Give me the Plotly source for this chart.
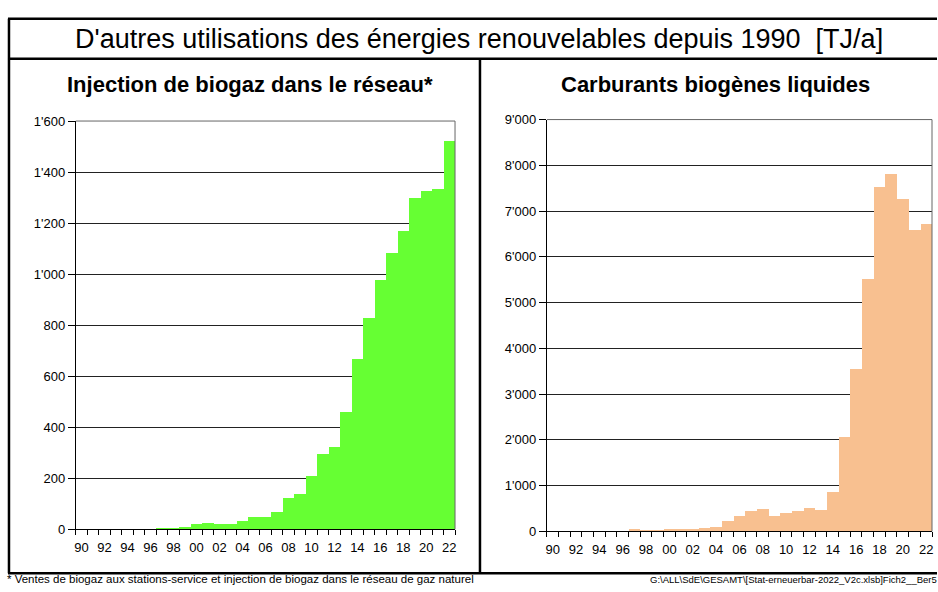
import plotly.graph_objects as go

YEARS = list(range(1990, 2023))

# Injection de biogaz dans le réseau [TJ/a]
BIOGAS = [0, 0, 0, 0, 0, 0, 0, 4, 6, 10,
          20, 25, 20, 23, 33, 48, 50, 67, 123, 137,
          211, 295, 323, 460, 668, 828, 977, 1082, 1170, 1298,
          1327, 1332, 1520]

# Carburants biogènes liquides [TJ/a]
LIQUID = [0, 0, 0, 0, 0, 0, 0, 57, 50, 42,
          57, 57, 57, 78, 113, 240, 339, 445, 488, 353,
          417, 445, 516, 473, 869, 2064, 3567, 5527, 7531, 7813,
          7268, 6588, 6737]

LEFT_TICKS = [0, 200, 400, 600, 800, 1000, 1200, 1400, 1600]
RIGHT_TICKS = [0, 1000, 2000, 3000, 4000, 5000, 6000, 7000, 8000, 9000]
X_LABELS = [f"{y % 100:02d}" for y in YEARS[::2]]

GREEN = "#66FF33"
PEACH = "#F8C090"
FONT = "Arial, Liberation Sans, sans-serif"
W, H = 938, 592


def _fmt(v):
    return f"{v:,}".replace(",", "'")


def px_x(px):
    return px / W


def px_y(py):
    return 1 - py / H


fig = go.Figure()
fig.add_trace(go.Bar(x=YEARS, y=BIOGAS, marker=dict(color=GREEN, line=dict(width=0)),
                     xaxis="x", yaxis="y", showlegend=False))
fig.add_trace(go.Bar(x=YEARS, y=LIQUID, marker=dict(color=PEACH, line=dict(width=0)),
                     xaxis="x2", yaxis="y2", showlegend=False))

xaxis_common = dict(
    range=[1989.5, 2022.5],
    tickmode="array",
    tickvals=YEARS[::2],
    ticktext=X_LABELS,
    ticks="outside", ticklen=6, tickcolor="rgba(0,0,0,0)",
    showline=True, linecolor="black", linewidth=1,
    showgrid=False, zeroline=False,
    tickfont=dict(family=FONT, size=13, color="black"),
    minor=dict(tickmode="array", tickvals=[y - 0.5 for y in YEARS] + [2022.5],
               ticks="outside", ticklen=5, tickcolor="black", showgrid=False),
    fixedrange=True,
)
yaxis_common = dict(
    tickmode="array",
    ticks="outside", ticklen=7, tickcolor="black",
    showline=True, linecolor="black", linewidth=1,
    showgrid=True, gridcolor="#222222", gridwidth=1,
    zeroline=False,
    tickfont=dict(family=FONT, size=13, color="black"),
    fixedrange=True,
)

fig.update_layout(
    width=W, height=H,
    margin=dict(l=0, r=0, t=0, b=0),
    paper_bgcolor="white", plot_bgcolor="white",
    bargap=0,
    font=dict(family=FONT, color="black"),
    xaxis=dict(domain=[px_x(75), px_x(455)], anchor="y", **xaxis_common),
    yaxis=dict(domain=[px_y(536), px_y(117)], anchor="x", range=[0, 1600],
               tickvals=LEFT_TICKS, ticktext=[_fmt(v) for v in LEFT_TICKS], **yaxis_common),
    xaxis2=dict(domain=[px_x(547), px_x(933)], anchor="y2", **xaxis_common),
    yaxis2=dict(domain=[px_y(538), px_y(115.5)], anchor="x2", range=[0, 9000],
                tickvals=RIGHT_TICKS, ticktext=[_fmt(v) for v in RIGHT_TICKS], **yaxis_common),
)

# plot frames (top and right edges, grey)
for xa, ya in (("x", "y"), ("x2", "y2")):
    fig.add_shape(type="line", xref=f"{xa} domain", yref=f"{ya} domain",
                  x0=0, x1=1, y0=1, y1=1, line=dict(color="#666666", width=1))
    fig.add_shape(type="line", xref=f"{xa} domain", yref=f"{ya} domain",
                  x0=1, x1=1, y0=0, y1=1, line=dict(color="#666666", width=1))

# outer box
frame = dict(color="black", width=2.5)
fig.add_shape(type="line", xref="paper", yref="paper", x0=px_x(7), x1=1, y0=px_y(12), y1=px_y(12), line=frame)
fig.add_shape(type="line", xref="paper", yref="paper", x0=px_x(7), x1=1, y0=px_y(53), y1=px_y(53), line=frame)
fig.add_shape(type="line", xref="paper", yref="paper", x0=px_x(7), x1=1, y0=px_y(581), y1=px_y(581), line=frame)
fig.add_shape(type="line", xref="paper", yref="paper", x0=px_x(8), x1=px_x(8), y0=px_y(581), y1=px_y(12), line=frame)
fig.add_shape(type="line", xref="paper", yref="paper", x0=px_x(480), x1=px_x(480), y0=px_y(581), y1=px_y(53), line=frame)

fig.add_annotation(text="D'autres utilisations des énergies renouvelables depuis 1990  [TJ/a]",
                   x=px_x(479), y=px_y(33), xref="paper", yref="paper", showarrow=False,
                   xanchor="center", yanchor="middle", font=dict(family=FONT, size=27))
fig.add_annotation(text="<b>Injection de biogaz dans le réseau*</b>",
                   x=px_x(250), y=px_y(80), xref="paper", yref="paper", showarrow=False,
                   xanchor="center", yanchor="middle", font=dict(family=FONT, size=22))
fig.add_annotation(text="<b>Carburants biogènes liquides</b>",
                   x=px_x(716), y=px_y(80), xref="paper", yref="paper", showarrow=False,
                   xanchor="center", yanchor="middle", font=dict(family=FONT, size=22))
fig.add_annotation(text="* Ventes de biogaz aux stations-service et injection de biogaz dans le réseau de gaz naturel",
                   x=px_x(4), y=px_y(587), xref="paper", yref="paper", showarrow=False,
                   xanchor="left", yanchor="middle", font=dict(family=FONT, size=11.5))
fig.add_annotation(text="G:\\ALL\\SdE\\GESAMT\\[Stat-erneuerbar-2022_V2c.xlsb]Fich2__Ber5",
                   x=px_x(648), y=px_y(587), xref="paper", yref="paper", showarrow=False,
                   xanchor="left", yanchor="middle", font=dict(family=FONT, size=9.5))

fig.write_html("out.html", config={"displayModeBar": False},
               post_script="document.body.style.margin='0';document.body.style.overflow='hidden';")
